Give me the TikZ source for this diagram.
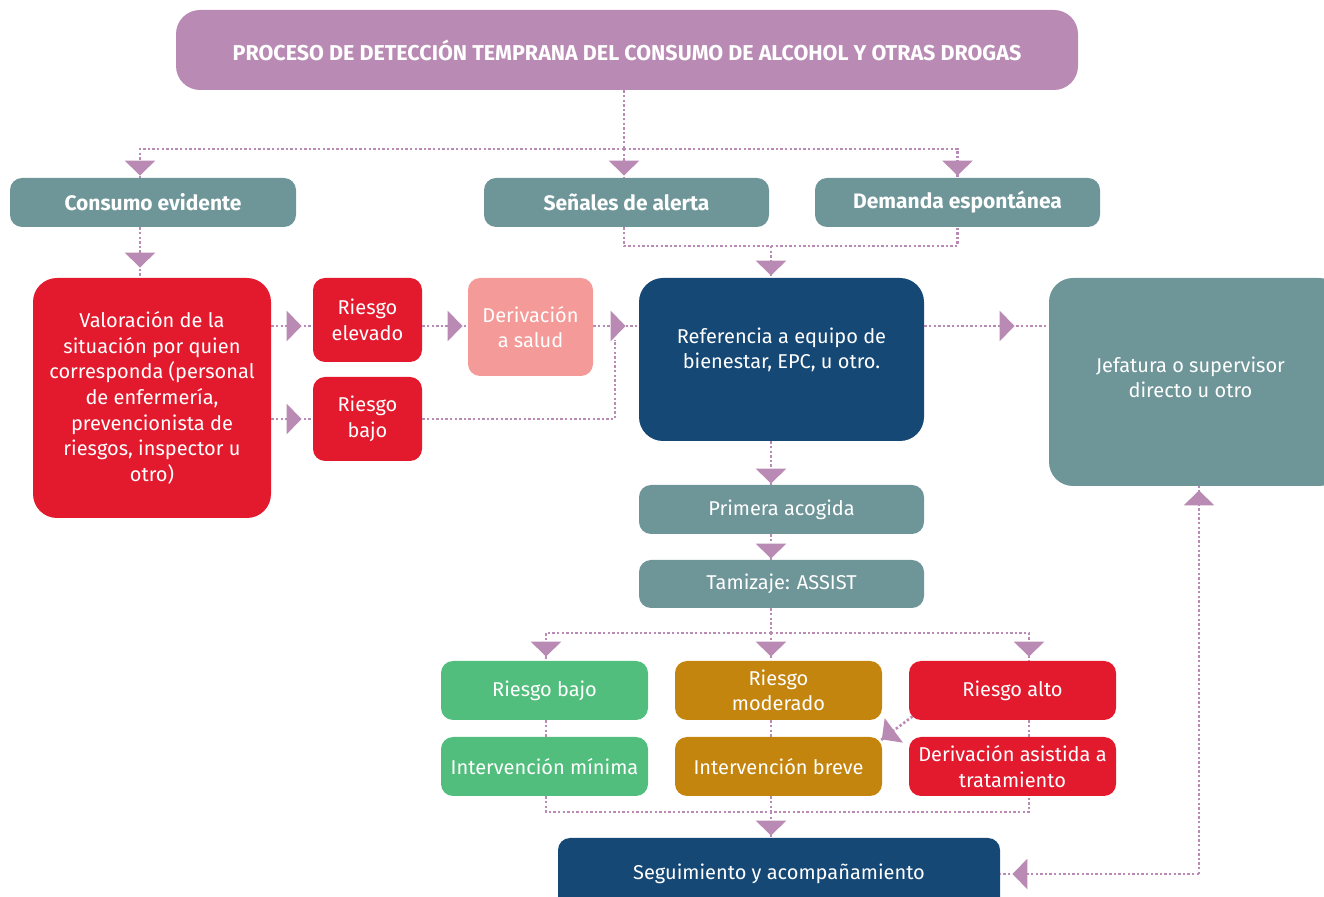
\documentclass[tikz,border=0pt]{standalone}
\usepackage{fontspec}
\setmainfont{Fira Sans}
\usetikzlibrary{arrows.meta,decorations.markings}

\definecolor{mauve}{HTML}{B98AB3}
\definecolor{teal}{HTML}{6E9598}
\definecolor{alarm}{HTML}{E31A2D}
\definecolor{rose}{HTML}{F49A98}
\definecolor{navy}{HTML}{154875}
\definecolor{leaf}{HTML}{52BE7D}
\definecolor{ochre}{HTML}{C4850F}

\tikzset{
  box/.style={rectangle, rounded corners=6pt, fill=#1, text=white, align=center,
    inner sep=0pt, font=\fontsize{10}{12.8}\selectfont},
  big/.style={rounded corners=12pt},
  head/.style={font=\bfseries\fontsize{10.5}{12}\selectfont},
  lbl/.style={text=white, align=center, inner sep=0pt, font=\fontsize{10}{12.8}\selectfont},
  flow/.style={mauve, draw, line width=1.3pt, dash pattern=on 1.2pt off 1.1pt},
  tip/.style={postaction={decorate}, decoration={markings,
    mark=at position -#1 with {\arrow{Triangle[width=15pt,length=7.5pt]}}}}
}

\begin{document}
\begin{tikzpicture}[x=0.5pt, y=-0.5pt]
\useasboundingbox (0,0) rectangle (1324,897);
\clip (0,0) rectangle (1324,897);

% columns and rows used by the connectors
\coordinate (colA) at (140,0);
\coordinate (colL) at (546,0);
\coordinate (colM) at (771,0);
\coordinate (colR) at (1029,0);
\coordinate (rowA) at (0,326);

% top
\node[box=mauve, big, font=\bfseries\fontsize{10.75}{12}\selectfont, minimum width=451pt, minimum height=40pt] (title) at (627,50)
  {PROCESO DE DETECCIÓN TEMPRANA DEL CONSUMO DE ALCOHOL Y OTRAS DROGAS};
\node[box=teal, head, minimum width=143pt, minimum height=24.5pt] (ce) at (153,202.5) {Consumo evidente};
\node[box=teal, head, minimum width=142.5pt, minimum height=24.5pt] (se) at (626.5,202.5) {Señales de alerta};
\node[box=teal, head, minimum width=142.5pt, minimum height=24.5pt] (de) at (957.5,202.5) {Demanda espontánea};

% middle row
\node[box=alarm, big, minimum width=119pt, minimum height=120pt] (val) at (152,398)
  {Valoración de la\\situación por quien\\corresponda (personal\\de enfermería,\\prevencionista de\\riesgos, inspector u\\otro)};
\node[box=alarm, minimum width=54.5pt, minimum height=42pt] (re) at (367.5,320) {Riesgo\\elevado};
\node[box=alarm, minimum width=54.5pt, minimum height=42pt] (rb) at (367.5,419) {Riesgo\\bajo};
\node[box=rose, minimum width=62.5pt, minimum height=49pt] (ds) at (530.5,327) {Derivación\\a salud};
\node[box=navy, big, minimum width=142.5pt, minimum height=81.5pt,
  label={[lbl, yshift=4.75pt]center:{Referencia a equipo de\\bienestar, EPC, u otro.}}] (ref) at (781.5,359.5) {};
\node[box=teal, big, minimum width=147pt, minimum height=104pt,
  label={[lbl, xshift=-2.75pt, yshift=2.25pt]center:{Jefatura o supervisor\\directo u otro}}] (jef) at (1196,382) {};

% screening
\node[box=teal, minimum width=142.5pt, minimum height=24.5pt] (pa) at (781.5,509.5) {Primera acogida};
\node[box=teal, minimum width=142.5pt, minimum height=24pt] (tz) at (781.5,584) {Tamizaje: ASSIST};

% risk levels
\node[box=leaf, minimum width=103.5pt, minimum height=29.5pt] (rbaj) at (544.5,690.5) {Riesgo bajo};
\node[box=ochre, minimum width=103.5pt, minimum height=29.5pt] (rmod) at (778.5,690.5) {Riesgo\\moderado};
\node[box=alarm, minimum width=103.5pt, minimum height=29.5pt] (ralt) at (1012.5,690.5) {Riesgo alto};
\node[box=leaf, minimum width=103.5pt, minimum height=29.5pt] (im) at (544.5,766.5) {Intervención mínima};
\node[box=ochre, minimum width=103.5pt, minimum height=29.5pt] (ib) at (778.5,766.5) {Intervención breve};
\node[box=alarm, minimum width=103.5pt, minimum height=29.5pt] (da) at (1012.5,766.5) {Derivación asistida a\\tratamiento};

\node[box=navy, minimum width=221pt, minimum height=36pt] (seg) at (779,874) {Seguimiento y acompañamiento};

% connectors
\coordinate (split) at (624,149);
\draw[flow] (title.south -| split) -- (split);
\draw[flow, tip=1pt] (split) -| (ce.north -| colA);
\draw[flow, tip=1pt] (split) -- (se.north -| split);
\draw[flow, tip=1pt] (split) -| (de.north);
\draw[flow, tip=5pt] (ce.south -| colA) -- (val.north -| colA);

\coordinate (join) at (771,246);
\draw[flow] (se.south -| split) |- (join) -| (de.south);
\draw[flow, tip=1pt] (join) -- (ref.north -| join);

\draw[flow, tip=5.5pt] (val.east |- rowA) -- (re.west |- rowA);
\draw[flow, tip=5.5pt] (val.east |- rb.west) -- (rb.west);
\draw[flow, tip=2.5pt] (re.east |- rowA) -- (ds.west |- rowA);
\draw[flow, tip=6.5pt] (ds.east |- rowA) -- (ref.west |- rowA);
\coordinate (mergeB) at (615,340);
\draw[flow] (rb.east) -| (mergeB);
\draw[flow, tip=17pt] (ref.east |- rowA) -- (jef.west |- rowA);

\draw[flow, tip=0.5pt] (ref.south -| colM) -- (pa.north -| colM);
\draw[flow, tip=0.5pt] (pa.south -| colM) -- (tz.north -| colM);

\coordinate (split2) at (771,633);
\draw[flow] (tz.south -| colM) -- (split2);
\draw[flow, tip=2pt] (split2) -| (rbaj.north -| colL);
\draw[flow, tip=2pt] (split2) -- (rmod.north -| colM);
\draw[flow, tip=2pt] (split2) -| (ralt.north -| colR);

\draw[flow] (rbaj.south -| colL) -- (im.north -| colL);
\draw[flow] (rmod.south -| colM) -- (ib.north -| colM);
\draw[flow] (ralt.south -| colR) -- (da.north -| colR);
\coordinate (gapMR) at (881,740);
\draw[flow, tip=0.5pt] ([xshift=2pt,yshift=2pt]ralt.south west) -- (gapMR);

\coordinate (join2) at (771,812);
\draw[flow] (im.south -| colL) |- (join2) -| (da.south -| colR);
\draw[flow] (ib.south -| colM) -- (join2);
\draw[flow, tip=1pt] (join2) -- (seg.north -| colM);

\coordinate (cornerJ) at (1199,874);
\draw[flow, tip=2pt] (cornerJ) -- (jef.south -| cornerJ);
\draw[flow, tip=6pt] (cornerJ) -- (seg.east |- cornerJ);
\end{tikzpicture}
\end{document}
